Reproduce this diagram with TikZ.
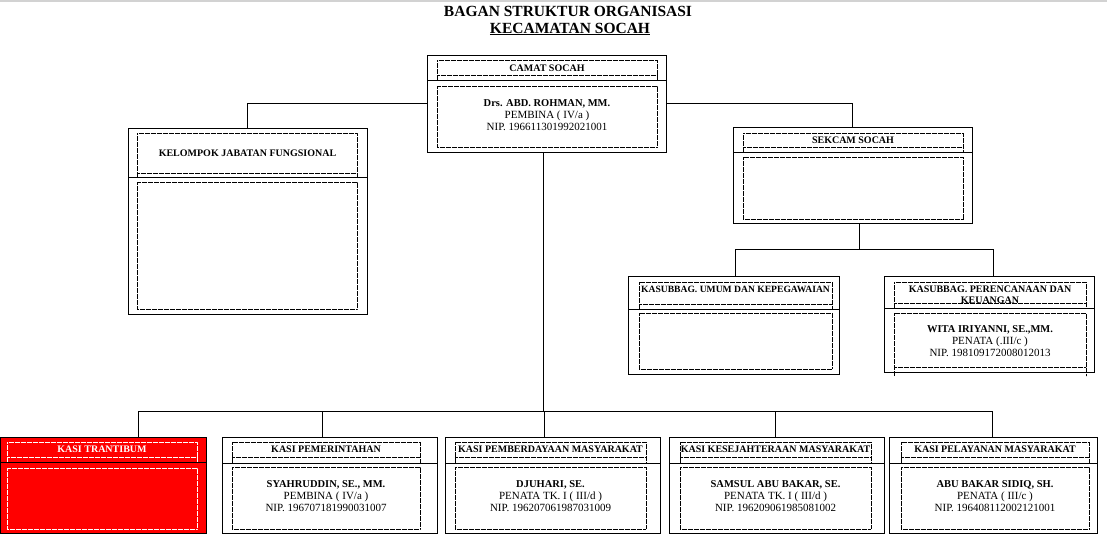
\documentclass[tikz,border=0pt]{standalone}
\usepackage{fontspec}
\setmainfont{Liberation Serif}
\tikzset{
 obox/.style={draw=black, line width=0.9pt, inner sep=0pt, outer sep=0pt},
 divl/.style={line width=0.9pt},
 dotl/.style={line width=0.8pt, dash pattern=on 0.6pt off 0.6pt},
 conn/.style={line width=0.9pt},
 ttl/.style={font=\fontsize{10}{11}\selectfont\bfseries, inner sep=0pt, align=center},
 bod/.style={font=\fontsize{11}{12}\selectfont, inner sep=0pt, align=center},
 hdr/.style={font=\fontsize{15.5}{17}\selectfont\bfseries, inner sep=0pt},
}
\newcommand\Nm[1]{{\fontsize{10.5}{12}\selectfont\bfseries #1}}
\newcommand\Frame[7]{%
 \node[obox, fill=#7, minimum width={(#4)-(#2)}, minimum height={(#5)-(#3)}] (#1) at ({((#2)+(#4))/2},{((#3)+(#5))/2}) {};
 \draw[divl] (#2,#6) -- (#4,#6);}
\newcommand\Dots[6]{%
 \draw[dotl, draw=#6] (#1,#5) -- (#1,#2) -- (#3,#2) -- (#3,#5);
 \draw[dotl, draw=#6] (#1,#4) -- (#3,#4);}
\begin{document}
\begin{tikzpicture}[x=1pt,y=-1pt]
\useasboundingbox (0,0) rectangle (1107,541);
\fill[gray!35] (0,0) rectangle (1107,1.5);
% title
\node[hdr] (h1) at (568,11) {BAGAN STRUKTUR ORGANISASI};
\node[hdr] (h2) at (570,29) {\underline{KECAMATAN SOCAH}};
% camat
\Frame{camat}{427}{55}{666}{152}{80}{white}
\Dots{437}{60}{657}{75}{80}{black}
\draw[dotl] (437,86) rectangle (657,147);
\node[ttl] (tcamat) at (547,68.5) {CAMAT SOCAH};
\node[bod] (bcamat) at (547,115) {\Nm{Drs. ABD. ROHMAN, MM.}\\PEMBINA ( IV/a )\\NIP. 196611301992021001};
% kelompok
\Frame{kel}{128}{128}{367}{314}{177}{white}
\Dots{137}{133}{357}{173}{177}{black}
\draw[dotl] (137,182) rectangle (357,309);
\node[ttl] (tkel) at (247.5,153) {KELOMPOK JABATAN FUNGSIONAL};
% sekcam
\Frame{sek}{733}{127}{972}{223}{152}{white}
\Dots{743}{133}{963}{147}{152}{black}
\draw[dotl] (743,157) rectangle (963,219);
\node[ttl] (tsek) at (853,140) {SEKCAM SOCAH};
% umum
\Frame{umum}{628}{276}{839}{374}{309}{white}
\Dots{639}{282}{832}{304}{309}{black}
\draw[dotl] (639,313) rectangle (832,369);
\node[ttl, font=\fontsize{9.6}{11}\selectfont\bfseries] (tumum) at (735.5,289.5) {KASUBBAG. UMUM DAN KEPEGAWAIAN};
% perencanaan
\Frame{per}{884}{276}{1094}{372}{308}{white}
\Dots{894}{282}{1086}{303}{308}{black}
\draw[dotl] (894,376) -- (894,313) -- (1086,313) -- (1086,376);
\draw[dotl] (894,367) -- (1086,367);
\node[ttl] (tper) at (990,294.5) {KASUBBAG. PERENCANAAN DAN\\KEUANGAN};
\node[bod] (bper) at (990,341.5) {\Nm{WITA IRIYANNI, SE.,MM.}\\PENATA (.III/c )\\NIP. 198109172008012013};
% bottom row
\Frame{tran}{0}{437}{206}{533}{462}{red}
\Dots{7}{442}{197}{457}{462}{white}
\draw[dotl, draw=white] (7,468) rectangle (197,529);
\node[ttl, text=white] (ttran) at (102,449.5) {KASI TRANTIBUM};
\Frame{pem}{222}{437}{437}{533}{463}{white}
\Dots{232}{442}{420}{457}{463}{black}
\draw[dotl] (232,467) rectangle (420,529);
\node[ttl] (tpem) at (326,449.5) {KASI PEMERINTAHAN};
\node[bod] (bpem) at (326,496) {\Nm{SYAHRUDDIN, SE., MM.}\\PEMBINA ( IV/a )\\NIP. 196707181990031007};
\Frame{pmb}{445}{437}{660}{533}{463}{white}
\Dots{455}{442}{646}{457}{463}{black}
\draw[dotl] (455,467) rectangle (646,529);
\node[ttl] (tpmb) at (550.5,449.5) {KASI PEMBERDAYAAN MASYARAKAT};
\node[bod] (bpmb) at (550.5,496) {\Nm{DJUHARI, SE.}\\PENATA TK. I ( III/d )\\NIP. 196207061987031009};
\Frame{kes}{669}{437}{884}{533}{463}{white}
\Dots{680}{442}{871}{457}{463}{black}
\draw[dotl] (680,467) rectangle (871,529);
\node[ttl] (tkes) at (775.5,449.5) {KASI KESEJAHTERAAN MASYARAKAT};
\node[bod] (bkes) at (775.5,496) {\Nm{SAMSUL ABU BAKAR, SE.}\\PENATA TK. I ( III/d )\\NIP. 196209061985081002};
\Frame{pel}{889}{437}{1097}{533}{463}{white}
\Dots{901}{442}{1089}{457}{463}{black}
\draw[dotl] (901,467) rectangle (1089,529);
\node[ttl] (tpel) at (995,449.5) {KASI PELAYANAN MASYARAKAT};
\node[bod] (bpel) at (995,496) {\Nm{ABU BAKAR SIDIQ, SH.}\\PENATA ( III/c )\\NIP. 196408112002121001};
% connectors
\draw[conn] (camat.west) -| (kel.north);
\draw[conn] (camat.east) -| (sek.north);
\coordinate (sb) at (859,249);
\draw[conn] (sb |- sek.south) -- (sb);
\coordinate (su) at (735,249);
\coordinate (sp) at (993,249);
\draw[conn] (su) -- (sp);
\draw[conn] (su) -- (su |- umum.north);
\draw[conn] (sp) -- (sp |- per.north);
\coordinate (bus) at (543,411);
\draw[conn] (bus |- camat.south) -- (bus);
\coordinate (d1) at (138,411);
\coordinate (d2) at (322,411);
\coordinate (d3) at (544,411);
\coordinate (d4) at (775,411);
\coordinate (d5) at (992,411);
\draw[conn] (d1) -- (d5);
\draw[conn] (d1) -- (d1 |- tran.north);
\draw[conn] (d2) -- (d2 |- pem.north);
\draw[conn] (d3) -- (d3 |- pmb.north);
\draw[conn] (d4) -- (d4 |- kes.north);
\draw[conn] (d5) -- (d5 |- pel.north);
\end{tikzpicture}
\end{document}
